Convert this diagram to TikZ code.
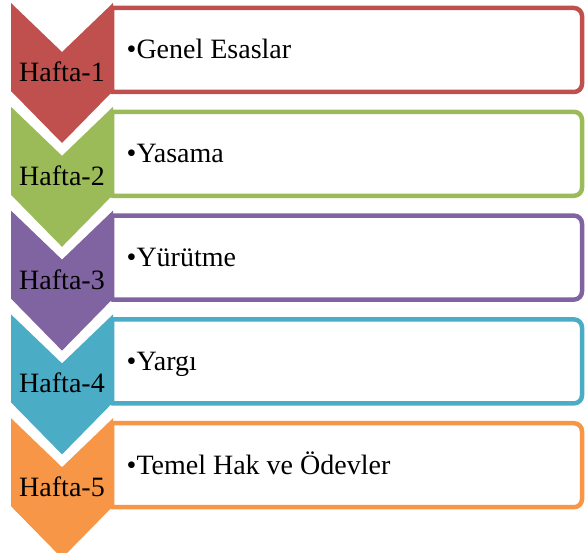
\documentclass[tikz,border=0pt]{standalone}
\usepackage{fontspec}
\setmainfont{Liberation Serif}
\definecolor{cRed}{HTML}{C0504D}
\definecolor{cGreen}{HTML}{9BBB59}
\definecolor{cPurple}{HTML}{8064A2}
\definecolor{cTeal}{HTML}{4BACC6}
\definecolor{cOrange}{HTML}{F79646}
\tikzset{
  chevron/.style={fill=#1, draw=none},
  itembox/.style={draw=#1, line width=4.5pt, fill=white, line join=round},
  weeklabel/.style={anchor=base, inner sep=0pt, font=\fontsize{28}{30}\selectfont},
  itemtext/.style={anchor=base west, inner sep=0pt, font=\fontsize{28}{30}\selectfont},
}
\begin{document}
\begin{tikzpicture}[x=1pt, y=-1pt]
  \useasboundingbox (0,0) rectangle (586,553);
  \foreach \i/\col/\txt in {1/cRed/Genel Esaslar, 2/cGreen/Yasama, 3/cPurple/Yürütme, 4/cTeal/Yargı, 5/cOrange/Temel Hak ve Ödevler}{
    \pgfmathsetmacro{\T}{3+103.8*(\i-1)}
    % text box: square on the left, rounded on the right
    \draw[itembox=\col] (112,\T+5) [rounded corners=8pt] -- (582,\T+5) -- (582,\T+89) [sharp corners] -- (112,\T+89) -- cycle;
    % down-pointing chevron
    \fill[chevron=\col] (11,\T) -- (62,\T+49) -- (113,\T) -- (113,\T+88) -- (62,\T+140) -- (11,\T+88) -- cycle;
    \node[weeklabel] (week\i) at (62,\T+78.5) {Hafta-\i};
    \node[itemtext] (item\i) at (126.5,\T+56) {•\txt};
  }
\end{tikzpicture}
\end{document}
